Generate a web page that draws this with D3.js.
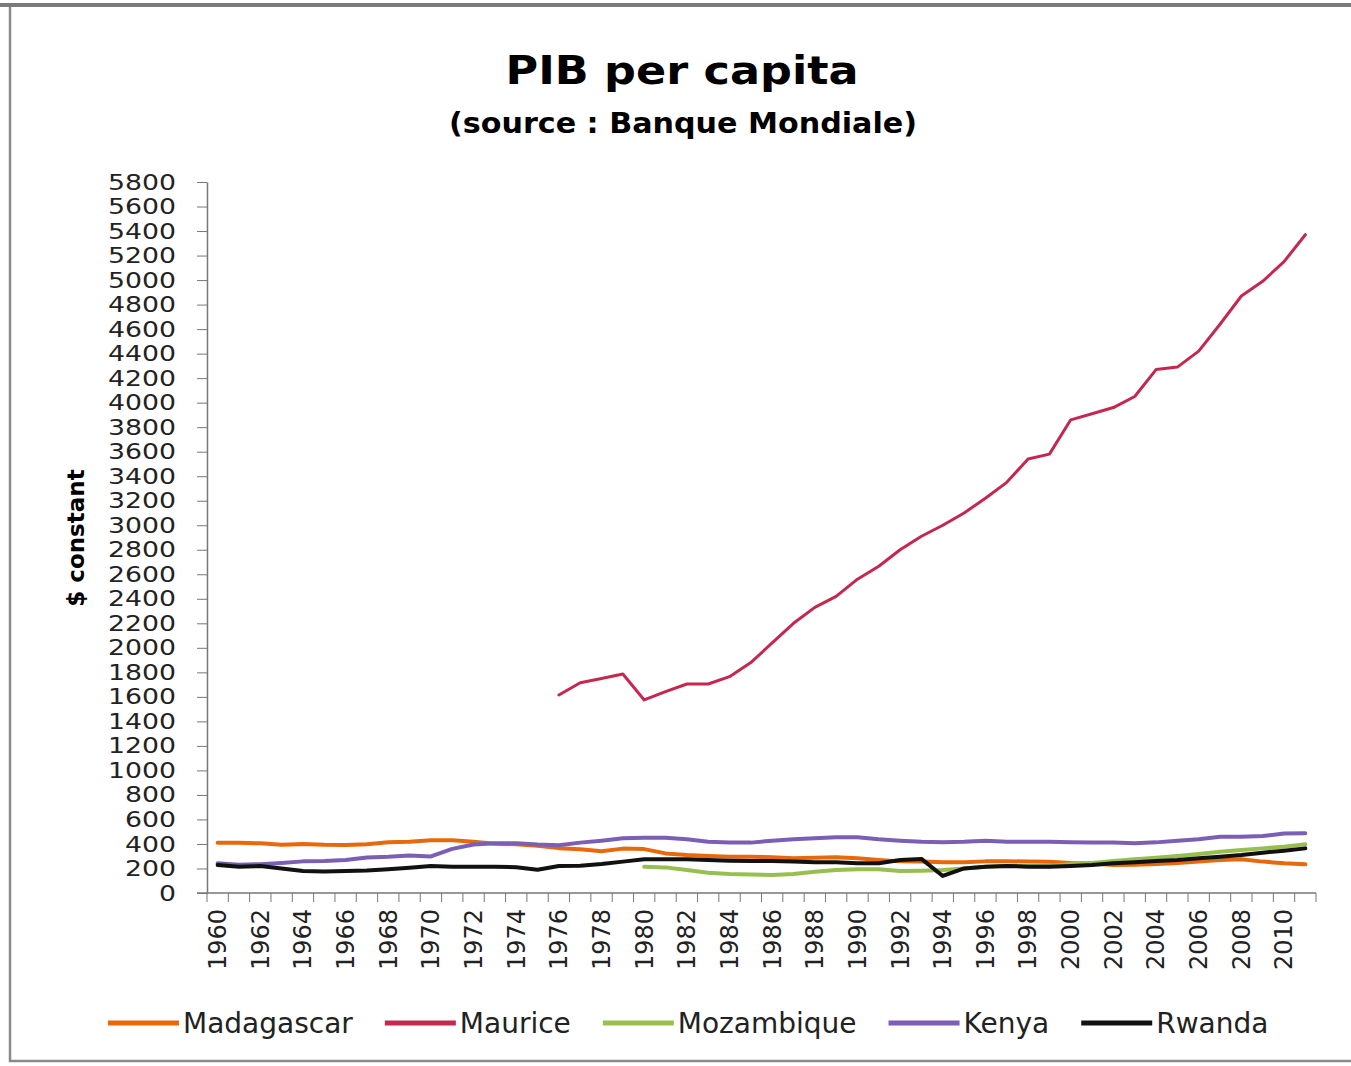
<!DOCTYPE html>
<html>
<head>
<meta charset="utf-8">
<script src="https://d3js.org/d3.v7.min.js"></script>
<style>
	body { margin: 0; background: #fff; }
	.tick text { font-family: "DejaVu Sans", sans-serif; fill: #222; }
	.legend text { font-family: "DejaVu Sans", sans-serif; font-size: 28px; fill: #222; }
</style>
</head>
<body>
<div id="container"></div>

<script type="text/javascript">

// PIB per capita, $ constant (Banque Mondiale)
var years = d3.range(1960, 2012);

var madagascar = [410, 410, 405, 393, 400, 393, 392, 398, 414, 418,
	430, 430, 418, 402, 397, 385, 366, 356, 340, 362,
	358, 323, 310, 302, 296, 296, 291, 283, 288, 291,
	283, 269, 258, 256, 250, 250, 258, 260, 256, 255,
	245, 242, 228, 230, 237, 245, 256, 269, 275, 256,
	242, 234];

// starts in 1976
var maurice = [1615, 1715, 1750, 1786,
	1575, 1642, 1705, 1705, 1765, 1880, 2040, 2200, 2330, 2420,
	2560, 2665, 2800, 2910, 3000, 3100, 3220, 3350, 3540, 3580,
	3860, 3910, 3960, 4050, 4270, 4290, 4420, 4640, 4870, 4990,
	5150, 5370];

// starts in 1980
var mozambique = [215, 209, 187, 166, 155, 150, 147, 155, 174, 187,
	193, 193, 179, 182, 187, 200, 215, 220, 220, 223,
	234, 245, 261, 275, 288, 302, 318, 337, 351, 364,
	378, 397];

var kenya = [242, 230, 235, 245, 258, 262, 270, 290, 295, 305,
	298, 360, 395, 405, 405, 395, 390, 411, 427, 446,
	450, 450, 438, 418, 411, 411, 427, 438, 446, 454,
	454, 438, 427, 418, 413, 418, 427, 418, 418, 418,
	413, 411, 411, 405, 413, 427, 438, 459, 458, 465,
	485, 487];

var rwanda = [228, 215, 220, 200, 180, 175, 180, 183, 193, 205,
	220, 215, 215, 215, 210, 190, 220, 223, 237, 256,
	275, 275, 275, 269, 264, 261, 261, 256, 250, 250,
	242, 242, 269, 278, 139, 200, 215, 220, 215, 215,
	220, 228, 242, 250, 261, 269, 283, 296, 310, 329,
	345, 364];

var seriesNames = ["Madagascar", "Maurice", "Mozambique", "Kenya", "Rwanda"];
var seriesStart = [1960, 1976, 1980, 1960, 1960];
var seriesValues = [madagascar, maurice, mozambique, kenya, rwanda];
var seriesColors = ["#e8680c", "#c4284f", "#97bf50", "#7a5fb4", "#111111"];
var seriesWidths = [4, 3, 4, 4, 4];

var yTicks = d3.range(0, 5801, 200);

var W = 1351, H = 1066;
var margin = {left: 207, right: 35, top: 182, bottom: 173};

var svg = d3.select("#container")
	.append("svg")
	.attr("width", W)
	.attr("height", H);

// outer frame (right edge runs off the picture)
svg.append("rect")
	.attr("x", 10).attr("y", 5)
	.attr("width", W + 20).attr("height", 1056)
	.attr("fill", "#fff")
	.attr("stroke", "#8a8a8a")
	.attr("stroke-width", 2.5);
svg.append("line")
	.attr("x1", 0).attr("x2", W)
	.attr("y1", 5).attr("y2", 5)
	.attr("stroke", "#7a7a7a")
	.attr("stroke-width", 4);

var x = d3.scaleBand()
	.domain(years)
	.range([margin.left, W - margin.right]);

var y = d3.scaleLinear()
	.domain([0, 5800])
	.range([H - margin.bottom, margin.top]);

// titles
svg.append("text")
	.attr("x", 682).attr("y", 84)
	.attr("text-anchor", "middle")
	.attr("textLength", 353).attr("lengthAdjust", "spacingAndGlyphs")
	.style("font-family", "DejaVu Sans, sans-serif")
	.style("font-weight", "bold")
	.style("font-size", "39px")
	.text("PIB per capita");

svg.append("text")
	.attr("x", 683).attr("y", 133)
	.attr("text-anchor", "middle")
	.attr("textLength", 468).attr("lengthAdjust", "spacingAndGlyphs")
	.style("font-family", "DejaVu Sans, sans-serif")
	.style("font-weight", "bold")
	.style("font-size", "28px")
	.text("(source : Banque Mondiale)");

// y axis label
svg.append("text")
	.attr("transform", "translate(84,538) rotate(-90)")
	.attr("text-anchor", "middle")
	.style("font-family", "DejaVu Sans, sans-serif")
	.style("font-weight", "bold")
	.style("font-size", "23px")
	.text("$ constant");

// y axis
var yAxis = svg.append("g")
	.attr("transform", "translate(" + margin.left + ",0)")
	.call(d3.axisLeft(y).tickValues(yTicks).tickFormat(d3.format("d"))
		.tickSize(10).tickPadding(21).tickSizeOuter(0));
yAxis.selectAll("text").style("font-size", "22px").attr("textLength", 68).attr("lengthAdjust", "spacingAndGlyphs");
yAxis.selectAll(".tick text").filter(function(d){ return d < 1000; }).attr("textLength", d => d === 0 ? 17 : 51);
yAxis.select(".domain").attr("stroke", "#777").attr("stroke-width", 1.5);
yAxis.selectAll(".tick line").attr("stroke", "#777");

// x axis: line plus ticks between categories
var xg = svg.append("g");
xg.append("line")
	.attr("x1", margin.left - 10).attr("x2", W - margin.right)
	.attr("y1", y(0)).attr("y2", y(0))
	.attr("stroke", "#777").attr("stroke-width", 1.5);

var bounds = years.map(function(d){ return x(d); }).concat([x(2011) + x.bandwidth()]);
xg.selectAll("line.xt")
	.data(bounds)
	.enter().append("line")
	.attr("class", "xt")
	.attr("x1", function(d){ return d; }).attr("x2", function(d){ return d; })
	.attr("y1", y(0)).attr("y2", y(0) + 9)
	.attr("stroke", "#777");

xg.selectAll("text.xl")
	.data(years.filter(function(d){ return d % 2 === 0; }))
	.enter().append("text")
	.attr("class", "xl")
	.attr("transform", function(d){
		return "translate(" + (x(d) + x.bandwidth() / 2) + "," + (y(0) + 16) + ") rotate(-90)";
	})
	.attr("text-anchor", "end")
	.attr("dy", "0.35em")
	.style("font-family", "DejaVu Sans, sans-serif")
	.style("font-size", "24px")
	.style("fill", "#222")
	.text(function(d){ return d; });

// lines
var line = d3.line()
	.x(function(d){ return x(d.year) + x.bandwidth() / 2; })
	.y(function(d){ return y(d.value); });

seriesNames.forEach(function(name, i){
	var pts = seriesValues[i].map(function(v, j){ return {year: seriesStart[i] + j, value: v}; });
	svg.append("path")
		.datum(pts)
		.attr("fill", "none")
		.attr("stroke", seriesColors[i])
		.attr("stroke-width", seriesWidths[i])
		.attr("stroke-linejoin", "round")
		.attr("stroke-linecap", "round")
		.attr("d", line);
});

// legend
var legend = svg.append("g").attr("class", "legend");
var lx = 108, ly = 1023;
seriesNames.forEach(function(name, i){
	legend.append("line")
		.attr("x1", lx).attr("x2", lx + 71)
		.attr("y1", ly).attr("y2", ly)
		.attr("stroke", seriesColors[i])
		.attr("stroke-width", 5);
	var t = legend.append("text")
		.attr("x", lx + 75).attr("y", ly)
		.attr("dy", "0.35em")
		.text(name);
	lx = lx + 75 + t.node().getComputedTextLength() + 32;
});

</script>
</body>
</html>
